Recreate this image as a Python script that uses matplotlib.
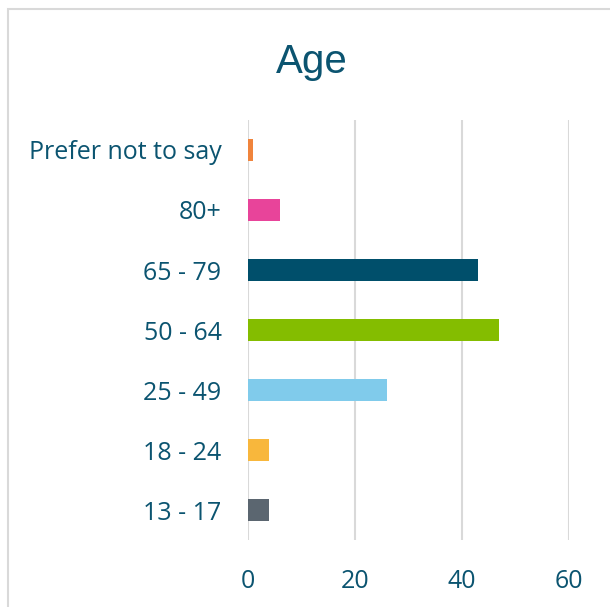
import matplotlib.pyplot as plt
from matplotlib.patches import Rectangle

categories = ["13 - 17", "18 - 24", "25 - 49", "50 - 64", "65 - 79", "80+", "Prefer not to say"]
values = [4, 4, 26, 47, 43, 6, 1]
colors = ["#5b6670", "#f8b73c", "#80cbeb", "#84bd00", "#004f6b", "#e8449a", "#f0843c"]
xticks = [0, 20, 40, 60]

text_col = "#0b5470"

fig = plt.figure(figsize=(6.10, 6.07), dpi=100)
W, H = 610, 607
ax = fig.add_axes([248 / W, (H - 540) / H, (569 - 248) / W, 420 / H])

ax.barh(range(len(categories)), values, height=0.37, color=colors, zorder=3)
ax.set_xlim(0, 60)
ax.set_ylim(-0.5, len(categories) - 0.5)
ax.set_xticks(xticks)
ax.set_yticks(range(len(categories)))
ax.set_yticklabels(categories)
for s in ax.spines.values():
    s.set_visible(False)
ax.grid(axis="x", color="#d9d9d9", linewidth=1.5, zorder=0)
ax.tick_params(length=0, labelsize=18, labelcolor=text_col)
ax.tick_params(axis="y", pad=19)
ax.tick_params(axis="x", pad=21)
for lbl in ax.get_xticklabels() + ax.get_yticklabels():
    lbl.set_family("Open Sans")

fig.text(312 / W, 1 - 62 / H, "Age", ha="center", va="center", fontsize=29,
         color=text_col, family="Liberation Sans")

# outer frame
fig.patches.append(Rectangle((8 / W, -0.1), 1.2, 1 - 9 / H + 0.1, transform=fig.transFigure,
                             fill=False, edgecolor="#d9d9d9", linewidth=1.5, zorder=0))

fig.savefig("out.png", dpi=100)
